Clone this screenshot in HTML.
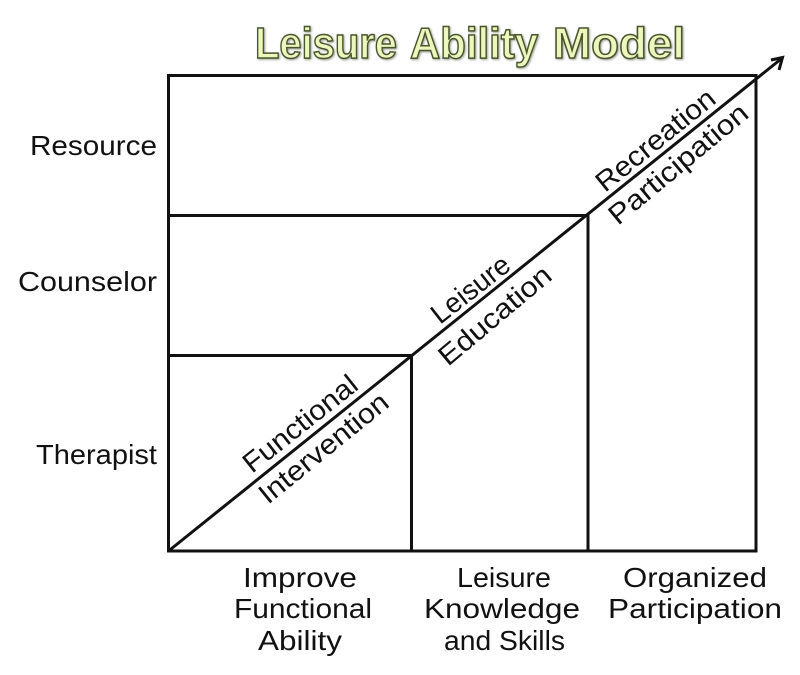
<!DOCTYPE html>
<html>
<head>
<meta charset="utf-8">
<style>
html,body{margin:0;padding:0;background:#fff;}
svg{display:block;}
text{font-family:"Liberation Sans",sans-serif;font-size:28px;fill:#111;}
.t{font-family:"Liberation Sans",sans-serif;font-size:44px;font-weight:bold;fill:#ecf6bd;stroke:#47562c;stroke-width:1.5px;filter:drop-shadow(1.5px 1.5px 1px rgba(80,80,60,.55));}
.l{stroke:#111;stroke-width:3;fill:none;}
</style>
</head>
<body>
<svg width="800" height="675" viewBox="0 0 800 675" xmlns="http://www.w3.org/2000/svg">
<rect width="800" height="675" fill="#fff"/>
<text class="t" x="255" y="58" textLength="142" lengthAdjust="spacingAndGlyphs">Leisure</text>
<text class="t" x="410" y="58" textLength="128" lengthAdjust="spacingAndGlyphs">Ability</text>
<text class="t" x="553" y="58" textLength="132" lengthAdjust="spacingAndGlyphs">Model</text>

<rect class="l" x="168.5" y="75.5" width="587.5" height="475.5"/>
<path class="l" d="M168.5 215.5H588V551M168.5 355.5H411.5V551"/>
<path class="l" d="M168.5 551L781 59"/>
<path class="l" d="M771 60L782.5 57.5L779 70"/>

<text x="30" y="155" textLength="127" lengthAdjust="spacingAndGlyphs">Resource</text>
<text x="18" y="291" textLength="139" lengthAdjust="spacingAndGlyphs">Counselor</text>
<text x="36" y="464" textLength="121" lengthAdjust="spacingAndGlyphs">Therapist</text>

<text x="243" y="587" textLength="114" lengthAdjust="spacingAndGlyphs">Improve</text>
<text x="234" y="618" textLength="138" lengthAdjust="spacingAndGlyphs">Functional</text>
<text x="258" y="650" textLength="84" lengthAdjust="spacingAndGlyphs">Ability</text>

<text x="457" y="587" textLength="94" lengthAdjust="spacingAndGlyphs">Leisure</text>
<text x="424" y="618" textLength="156" lengthAdjust="spacingAndGlyphs">Knowledge</text>
<text x="444" y="650" textLength="121" lengthAdjust="spacingAndGlyphs">and Skills</text>

<text x="623" y="587" textLength="144" lengthAdjust="spacingAndGlyphs">Organized</text>
<text x="608" y="618" textLength="174" lengthAdjust="spacingAndGlyphs">Participation</text>

<text transform="translate(252,474) rotate(-38.5)" textLength="138" lengthAdjust="spacingAndGlyphs">Functional</text>
<text transform="translate(268,505) rotate(-39)" textLength="158" lengthAdjust="spacingAndGlyphs">Intervention</text>
<text transform="translate(440,325) rotate(-38)" textLength="92" lengthAdjust="spacingAndGlyphs">Leisure</text>
<text transform="translate(448,367) rotate(-40)" textLength="138" lengthAdjust="spacingAndGlyphs">Education</text>
<text transform="translate(605,193) rotate(-39)" textLength="145" lengthAdjust="spacingAndGlyphs">Recreation</text>
<text transform="translate(618,226) rotate(-39.7)" textLength="172" lengthAdjust="spacingAndGlyphs">Participation</text>
</svg>
</body>
</html>
